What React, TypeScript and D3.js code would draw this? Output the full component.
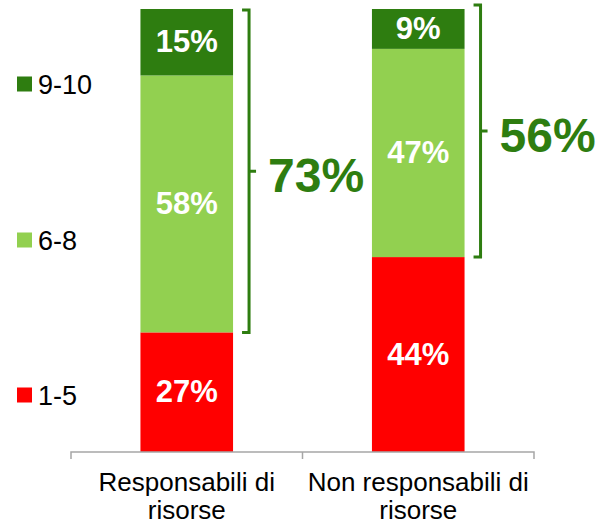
import React from "react";
import * as d3 from "d3";

const categories = ["Responsabili di risorse", "Non responsabili di risorse"];
const categoryLines = [["Responsabili di", "risorse"], ["Non responsabili di", "risorse"]];
const seriesNames = ["1-5", "6-8", "9-10"];
const seriesColors = ["#FF0000", "#92D050", "#2E7D10"];
const low = [27, 44];
const mid = [58, 47];
const high = [15, 9];
const bracketTotals = ["73%", "56%"];

const W = 598;
const H = 526;
const FONT = "'Liberation Sans', Arial, sans-serif";

export default function App() {
  const x = d3.scaleBand<string>().domain(categories).range([71, 534]).paddingInner(0).paddingOuter(0);
  const y = d3.scaleLinear().domain([0, 100]).range([452, 9]);
  const barW = x.bandwidth() * 0.4;
  const values = [low, mid, high];
  const stacked = categories.map((c, i) => {
    let acc = 0;
    return values.map((s, k) => {
      const y0 = acc;
      acc += s[i];
      return { k, y0, y1: acc, v: s[i] };
    });
  });
  const legendY = [395, 240, 84];
  const dark = seriesColors[2];

  return (
    <svg width={W} height={H} style={{ position: "absolute", left: 0, top: 0, background: "#fff" }} fontFamily={FONT}>
      {categories.map((c, i) => {
        const cx = (x(c) as number) + x.bandwidth() / 2;
        const bx = cx - barW / 2;
        return (
          <g key={c}>
            {stacked[i].map((s) => (
              <g key={s.k}>
                <rect x={bx} y={y(s.y1)} width={barW} height={y(s.y0) - y(s.y1)} fill={seriesColors[s.k]} />
                <text x={cx} y={(y(s.y0) + y(s.y1)) / 2 + 10} textAnchor="middle" fill="#fff" fontWeight="bold" fontSize={31}>
                  {s.v}%
                </text>
              </g>
            ))}
          </g>
        );
      })}
      {categories.map((c, i) => {
        const cx = (x(c) as number) + x.bandwidth() / 2;
        const vx = cx + barW / 2 + 16;
        const top = y(100) + (i === 0 ? 1 : -4);
        const bot = y(low[i]);
        const m = (top + bot) / 2;
        return (
          <g key={"br" + c}>
            <path
              d={`M${vx - 7},${top} H${vx} V${bot} H${vx - 7} M${vx},${m} H${vx + 7}`}
              fill="none"
              stroke={dark}
              strokeWidth={3}
            />
            <text x={vx + 19} y={m + 21} fill={dark} fontWeight="bold" fontSize={48}>
              {bracketTotals[i]}
            </text>
          </g>
        );
      })}
      <path d={`M71,459 V452 H534 V459 M${x(categories[1])},452 V459`} fill="none" stroke="#A6A6A6" strokeWidth={1.5} />
      {categories.map((c, i) => {
        const cx = (x(c) as number) + x.bandwidth() / 2;
        return (
          <text key={"l" + c} textAnchor="middle" fontSize={26} fill="#000">
            {categoryLines[i].map((ln, j) => (
              <tspan key={j} x={cx} y={491 + j * 28}>
                {ln}
              </tspan>
            ))}
          </text>
        );
      })}
      {seriesNames.map((n, k) => (
        <g key={n}>
          <rect x={17} y={legendY[k] - 7.5} width={15} height={15} fill={seriesColors[k]} />
          <text x={38} y={legendY[k] + 9.5} fontSize={27} fill="#000">
            {n}
          </text>
        </g>
      ))}
    </svg>
  );
}
